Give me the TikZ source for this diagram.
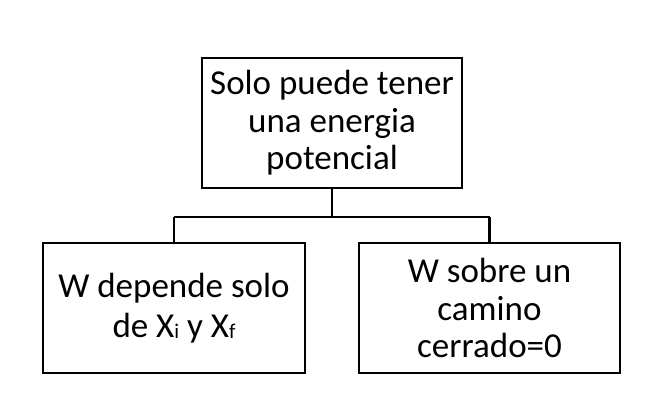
\documentclass[tikz,border=0pt]{standalone}
\usepackage{fontspec}
\setmainfont{Carlito}
\newcommand{\sbs}[1]{\raisebox{-1pt}{\fontsize{21}{21}\selectfont #1}}
\begin{document}
\begin{tikzpicture}[x=1pt,y=1pt,
  box/.style={draw=black, line width=2.8pt, fill=white, minimum width=260pt, minimum height=130pt, align=center, inner sep=0pt, font=\fontsize{35}{37.5}\selectfont},
  conn/.style={draw=black, line width=2.8pt},
  hconn/.style={draw=black, line width=2pt}]
\useasboundingbox (0,0) rectangle (672,-402);
\node[box] (top) at (332,-123) {Solo puede tener\\una energia\\potencial};
\node[box, minimum width=262pt, font=\fontsize{35}{40}\selectfont] (left) at (174,-308) {W depende solo\\de X\sbs{i} y X\sbs{f}};
\node[box, minimum width=261pt] (right) at (489.5,-308) {W sobre un\\camino\\cerrado=0};
\coordinate (jc) at (332,-217);
\coordinate (jl) at (174,-217);
\coordinate (jr) at (489.5,-217);
\draw[conn] (top.south) -- (jc);
\draw[hconn] (jl) -- (jr);
\draw[conn] (jl) -- (left.north);
\draw[conn] (jr) -- (right.north);
\end{tikzpicture}
\end{document}
